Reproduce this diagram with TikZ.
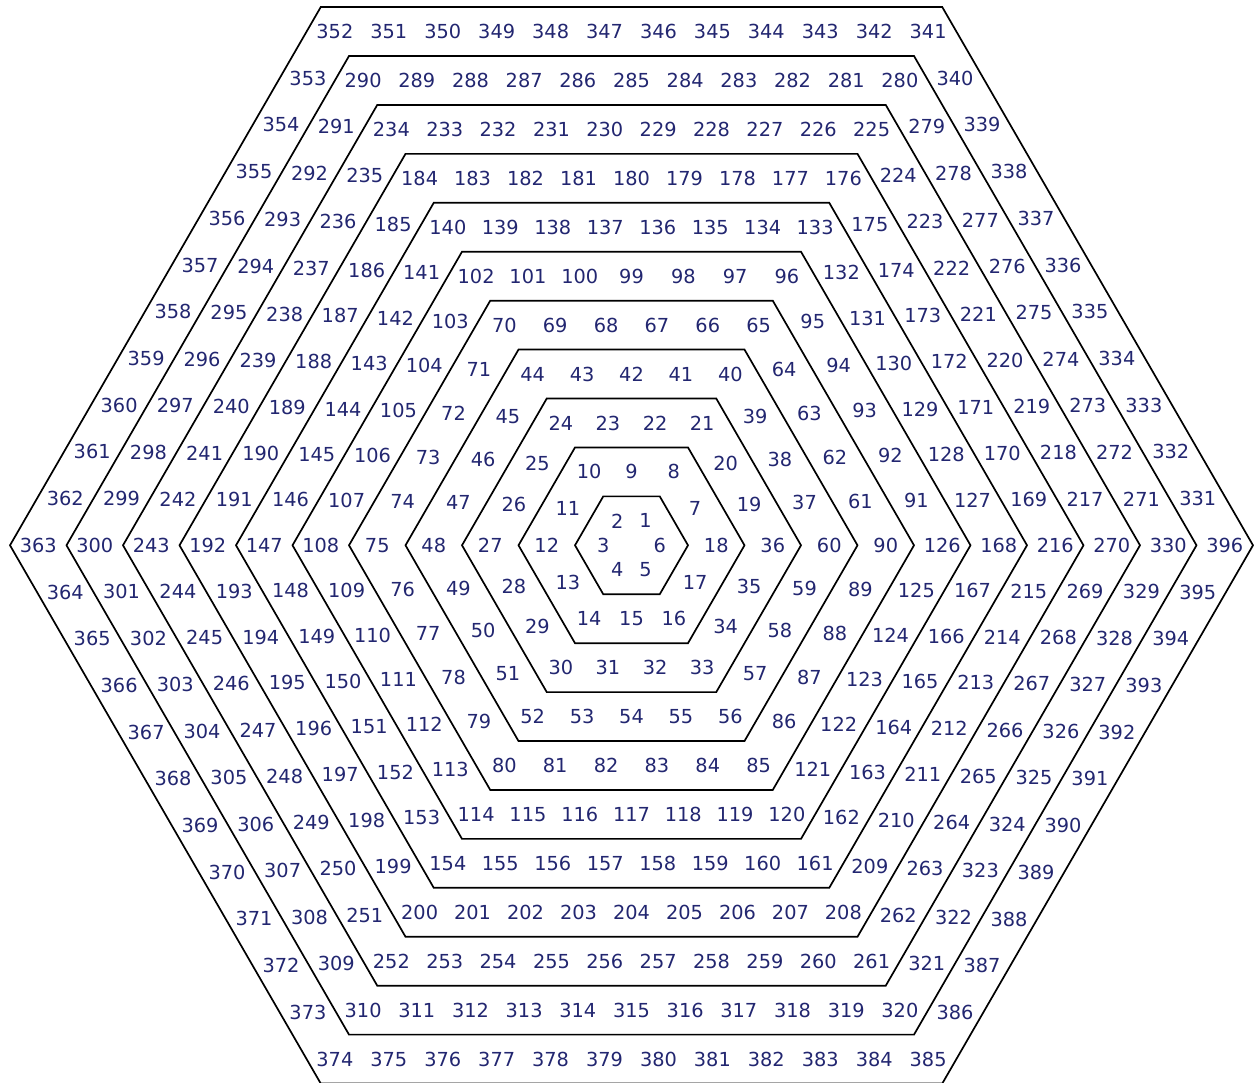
\documentclass[tikz,border=0pt]{standalone}
\usepackage{fontspec}
\setmainfont{DejaVu Sans}
\usepackage{tikz}
\usetikzlibrary{calc}
\definecolor{numnavy}{RGB}{34, 38, 112}

\begin{document}
\begin{tikzpicture}[
    x=0.02cm, y=-0.02cm,
    hexline/.style={draw=black, line width=0.034cm, line join=miter},
    cellnum/.style={text=numnavy, font=\fontsize{11}{13}\selectfont, inner sep=0pt}
]
    % Page frame
    \clip (0,0) rectangle (1254,1082);
    \coordinate (ctr) at (631.5,545.3);

    % Hexagon rings (flat top, pointy sides)
    \foreach \k in {1,...,11} {
        \draw[hexline] ($(ctr)+(0:{56.5*\k})$) -- ($(ctr)+(-60:{56.5*\k})$)
            -- ($(ctr)+(-120:{56.5*\k})$) -- ($(ctr)+(-180:{56.5*\k})$)
            -- ($(ctr)+(-240:{56.5*\k})$) -- ($(ctr)+(-300:{56.5*\k})$) -- cycle;
    }

    % Corners of the number rings, halfway between two hexagons
    \foreach \k in {1,...,11} {
        \foreach \v in {0,...,6}
            \coordinate (v\k-\v) at ($(ctr)+(-60*\v:{56.5*(\k-0.5)})$);
    }

    % Spiral numbers, 6k on ring k, counter-clockwise from the right corner
    \foreach \k in {1,...,11} {
        \pgfmathtruncatemacro{\kk}{6*\k}
        \foreach \p in {1,...,\kk} {
            \pgfmathtruncatemacro{\s}{int((\p-1)/\k)}
            \pgfmathtruncatemacro{\t}{\s+1}
            \pgfmathsetmacro{\fr}{(\p-\s*\k)/\k}
            \pgfmathtruncatemacro{\n}{3*\k*(\k-1)+\p}
            \node[cellnum] (n\n) at ($(v\k-\s)!\fr!(v\k-\t)$) {\n};
        }
    }
\end{tikzpicture}
\end{document}
